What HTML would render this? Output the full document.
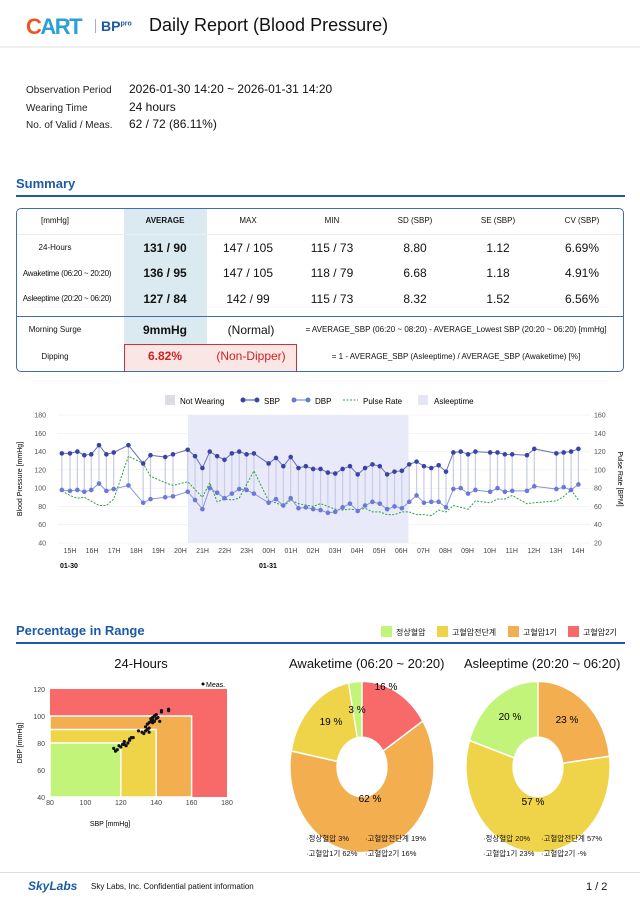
<!DOCTYPE html>
<html><head><meta charset="utf-8">
<style>
*{margin:0;padding:0;box-sizing:border-box}
body{width:640px;height:906px;background:#fff;font-family:"Liberation Sans","Noto Sans CJK KR",sans-serif;color:#111;position:relative;overflow:hidden}
.a{position:absolute;white-space:nowrap}
.c{transform:translateX(-50%)}
</style></head><body>
<div class="a" style="left:26px;top:14px;font-size:22px;font-weight:bold;letter-spacing:-1.5px"><span style="color:#e8572a">C</span><span style="color:#2a9fd8">ART</span></div>
<div class="a" style="left:95px;top:19px;width:1px;height:14px;background:#aac"></div>
<div class="a" style="left:101px;top:18px;font-size:14px;font-weight:bold;color:#1c5aa8">BP<sup style="font-size:7px">pro</sup></div>
<div class="a" style="left:149px;top:15px;font-size:18px">Daily Report (Blood Pressure)</div>
<div class="a" style="left:0;top:46px;width:640px;height:2px;background:#f0f0f0"></div>

<div class="a" style="left:26px;top:85px;font-size:10px;color:#222">Observation Period</div>
<div class="a" style="left:129px;top:82px;font-size:12px">2026-01-30 14:20 ~ 2026-01-31 14:20</div>
<div class="a" style="left:26px;top:103px;font-size:10px;color:#222">Wearing Time</div>
<div class="a" style="left:129px;top:100px;font-size:12px">24 hours</div>
<div class="a" style="left:26px;top:120px;font-size:10px;color:#222">No. of Valid / Meas.</div>
<div class="a" style="left:129px;top:117px;font-size:12px">62 / 72 (86.11%)</div>

<div class="a" style="left:16px;top:176px;font-size:13px;font-weight:bold;color:#1c5aa8">Summary</div>
<div class="a" style="left:16px;top:195px;width:609px;height:2px;background:#1c5aa8"></div>

<div class="a" style="left:16px;top:208px;width:608px;height:164px;border:1.5px solid #3d6fb0;border-radius:5px"></div>
<div class="a" style="left:124px;top:209px;width:83px;height:136px;background:#daeaf0"></div>
<div class="a" style="left:17px;top:234px;width:606px;height:1px;background:#e8eef4"></div>
<div class="a" style="left:17px;top:316px;width:606px;height:1px;background:#3d6fb0"></div>
<div class="a" style="left:124px;top:344px;width:173px;height:27px;background:#fbe6e6;border:1px solid #d03030;border-bottom:none"></div>
<div style="font-size:8px">
<div class="a c" style="left:55px;top:216px">[mmHg]</div>
<div class="a c" style="left:165px;top:216px;font-weight:bold">AVERAGE</div>
<div class="a c" style="left:248px;top:216px">MAX</div>
<div class="a c" style="left:332px;top:216px">MIN</div>
<div class="a c" style="left:415px;top:216px">SD (SBP)</div>
<div class="a c" style="left:498px;top:216px">SE (SBP)</div>
<div class="a c" style="left:582px;top:216px">CV (SBP)</div>
<div class="a c" style="left:55px;top:243px">24-Hours</div>
<div class="a c" style="left:67px;top:269px;letter-spacing:-0.3px">Awaketime (06:20 ~ 20:20)</div>
<div class="a c" style="left:67px;top:294px;letter-spacing:-0.3px">Asleeptime (20:20 ~ 06:20)</div>
<div class="a c" style="left:55px;top:325px">Morning Surge</div>
<div class="a c" style="left:55px;top:352px">Dipping</div>
<div class="a c" style="left:456px;top:325px">= AVERAGE_SBP (06:20 ~ 08:20) - AVERAGE_Lowest SBP (20:20 ~ 06:20) [mmHg]</div>
<div class="a c" style="left:456px;top:352px">= 1 - AVERAGE_SBP (Asleeptime) / AVERAGE_SBP (Awaketime) [%]</div>
</div>
<div style="font-size:12px">
<div class="a c" style="left:165px;top:241px;font-weight:bold">131 / 90</div>
<div class="a c" style="left:248px;top:241px">147 / 105</div>
<div class="a c" style="left:332px;top:241px">115 / 73</div>
<div class="a c" style="left:415px;top:241px">8.80</div>
<div class="a c" style="left:498px;top:241px">1.12</div>
<div class="a c" style="left:582px;top:241px">6.69%</div>
<div class="a c" style="left:165px;top:266px;font-weight:bold">136 / 95</div>
<div class="a c" style="left:248px;top:266px">147 / 105</div>
<div class="a c" style="left:332px;top:266px">118 / 79</div>
<div class="a c" style="left:415px;top:266px">6.68</div>
<div class="a c" style="left:498px;top:266px">1.18</div>
<div class="a c" style="left:582px;top:266px">4.91%</div>
<div class="a c" style="left:165px;top:292px;font-weight:bold">127 / 84</div>
<div class="a c" style="left:248px;top:292px">142 / 99</div>
<div class="a c" style="left:332px;top:292px">115 / 73</div>
<div class="a c" style="left:415px;top:292px">8.32</div>
<div class="a c" style="left:498px;top:292px">1.52</div>
<div class="a c" style="left:582px;top:292px">6.56%</div>
<div class="a c" style="left:165px;top:323px;font-weight:bold">9mmHg</div>
<div class="a c" style="left:251px;top:323px">(Normal)</div>
<div class="a c" style="left:165px;top:349px;font-weight:bold;color:#d02020">6.82%</div>
<div class="a c" style="left:251px;top:349px;color:#d02020">(Non-Dipper)</div>
</div>

<svg class="a" style="left:0;top:390px" width="640" height="190" id="ch"></svg>

<div class="a" style="left:16px;top:623px;font-size:13px;font-weight:bold;color:#1c5aa8">Percentage in Range</div>
<div class="a" style="left:16px;top:642px;width:609px;height:2px;background:#1c5aa8"></div>
<div style="font-size:8px">
<div class="a" style="left:381px;top:626px;width:11px;height:11px;background:#c3f47a"></div><div class="a" style="left:396px;top:627px">정상혈압</div>
<div class="a" style="left:437px;top:626px;width:11px;height:11px;background:#efd44a"></div><div class="a" style="left:452px;top:627px">고혈압전단계</div>
<div class="a" style="left:508px;top:626px;width:11px;height:11px;background:#f3ae50"></div><div class="a" style="left:523px;top:627px">고혈압1기</div>
<div class="a" style="left:568px;top:626px;width:11px;height:11px;background:#f86a6a"></div><div class="a" style="left:583px;top:627px">고혈압2기</div>
</div>
<div class="a c" style="left:141px;top:656px;font-size:13px">24-Hours</div>
<div class="a" style="left:289px;top:656px;font-size:13px">Awaketime (06:20 ~ 20:20)</div>
<div class="a" style="left:464px;top:656px;font-size:13px">Asleeptime (20:20 ~ 06:20)</div>
<svg class="a" style="left:0;top:670px" width="640" height="200" id="bt"></svg>
<div style="font-size:7.5px">
<div class="a" style="left:306px;top:833px">·정상혈압 3%</div><div class="a" style="left:365px;top:833px">·고혈압전단계 19%</div>
<div class="a" style="left:306px;top:848px">·고혈압1기 62%</div><div class="a" style="left:365px;top:848px">·고혈압2기 16%</div>
<div class="a" style="left:483px;top:833px">·정상혈압 20%</div><div class="a" style="left:541px;top:833px">·고혈압전단계 57%</div>
<div class="a" style="left:483px;top:848px">·고혈압1기 23%</div><div class="a" style="left:541px;top:848px">·고혈압2기 -%</div>
</div>
<div class="a" style="left:0;top:872px;width:640px;height:1px;background:#ddd"></div>
<div class="a" style="left:28px;top:879px;font-size:12px;font-weight:bold;font-style:italic;color:#1c5aa8">SkyLabs</div>
<div class="a" style="left:91px;top:882px;font-size:8px">Sky Labs, Inc. Confidential patient information</div>
<div class="a" style="left:586px;top:881px;font-size:11px">1 / 2</div>

<script>
var NS="http://www.w3.org/2000/svg";
function el(p,t,a,tx){var e=document.createElementNS(NS,t);for(var k in a)e.setAttribute(k,a[k]);if(tx!=null)e.textContent=tx;p.appendChild(e);return e;}
var ch=document.getElementById('ch');
function X(z){return 70+(z-172)*0.4087;}
function Y(v){return 25+(180-v)/140*128;}
el(ch,'rect',{x:165,y:5,width:10,height:10,fill:'#dcdce4'});el(ch,'text',{x:180,y:14,'font-size':8},'Not Wearing');
el(ch,'line',{x1:242,y1:10,x2:258,y2:10,stroke:'#3a44a8'});el(ch,'circle',{cx:243,cy:10,r:2.5,fill:'#3a44a8'});el(ch,'circle',{cx:257,cy:10,r:2.5,fill:'#3a44a8'});el(ch,'text',{x:264,y:14,'font-size':8},'SBP');
el(ch,'line',{x1:293,y1:10,x2:309,y2:10,stroke:'#6a78d8'});el(ch,'circle',{cx:294,cy:10,r:2.5,fill:'#6a78d8'});el(ch,'circle',{cx:308,cy:10,r:2.5,fill:'#6a78d8'});el(ch,'text',{x:315,y:14,'font-size':8},'DBP');
el(ch,'line',{x1:343,y1:10,x2:358,y2:10,stroke:'#2aa040','stroke-dasharray':'2,1.5'});el(ch,'text',{x:363,y:14,'font-size':8},'Pulse Rate');
el(ch,'rect',{x:418,y:5,width:10,height:10,fill:'#e4e6f8'});el(ch,'text',{x:434,y:14,'font-size':8},'Asleeptime');
el(ch,'rect',{x:188,y:25,width:220.5,height:128,fill:'#e9eaf9'});
for(var v=40;v<=180;v+=20){el(ch,'line',{x1:58,x2:590,y1:Y(v),y2:Y(v),stroke:'#eee','stroke-width':0.6});el(ch,'text',{x:46,y:Y(v)+2.5,'font-size':7,fill:'#555','text-anchor':'end'},v);el(ch,'text',{x:594,y:Y(v)+2.5,'font-size':7,fill:'#555'},v-20);}
el(ch,'text',{x:0,y:0,'font-size':7,transform:'translate(22,89) rotate(-90)','text-anchor':'middle'},'Blood Pressure  [mmHg]');
el(ch,'text',{x:0,y:0,'font-size':7,transform:'translate(618,89) rotate(90)','text-anchor':'middle'},'Pulse Rate  [BPM]');
var hl=['15H','16H','17H','18H','19H','20H','21H','22H','23H','00H','01H','02H','03H','04H','05H','06H','07H','08H','09H','10H','11H','12H','13H','14H'];
for(var i=0;i<24;i++)el(ch,'text',{x:70+i*508/23,y:163,'font-size':7,fill:'#444','text-anchor':'middle'},hl[i]);
el(ch,'text',{x:60,y:178,'font-size':7,'font-weight':'bold'},'01-30');el(ch,'text',{x:259,y:178,'font-size':7,'font-weight':'bold'},'01-31');
var S=[[152,138],[172,138],[190,140],[207,136],[224,137],[243,147],[261,137],[279,139],[315,147],[351,127],[369,136],[405,134],[424,137],[460,142],[478,135],[496,122],[514,140],[532,135],[550,131],[568,138],[586,140],[604,137],[622,138],[658,127],[676,133],[694,124],[712,134],[731,122],[749,124],[767,121],[785,121],[803,117],[821,116],[839,121],[857,124],[876,115],[894,122],[912,126],[930,124],[948,115],[966,118],[984,119],[1002,126],[1020,129],[1038,124],[1056,122],[1074,125],[1092,118],[1110,139],[1128,140],[1146,137],[1164,140],[1200,139],[1218,139],[1236,137],[1254,137],[1290,136],[1308,143],[1362,138],[1380,139],[1398,140],[1416,143]];
var D=[98,97,98,96,98,105,97,99,103,84,88,90,91,96,87,77,100,95,89,94,99,98,94,84,88,81,89,78,79,77,76,73,74,79,83,75,81,85,83,77,80,78,85,92,84,85,85,79,99,100,94,98,96,100,96,97,97,102,99,101,98,104];
var P=[[152,97],[172,92],[190,89],[207,90],[243,81],[261,81],[279,88],[315,135],[351,127],[369,113],[405,106],[424,103],[460,107],[496,90],[514,106],[532,85],[550,88],[568,87],[586,89],[622,119],[658,86],[676,84],[694,80],[712,87],[731,83],[767,80],[785,83],[821,77],[839,76],[857,77],[876,76],[894,78],[912,74],[930,74],[948,71],[966,71],[984,74],[1002,74],[1020,71],[1038,71],[1056,70],[1074,76],[1092,74],[1110,81],[1128,79],[1146,77],[1164,86],[1200,84],[1218,88],[1236,88],[1254,92],[1290,83],[1308,84],[1362,86],[1380,91],[1398,98],[1416,87]];
var sp='',dp='',pp='';
S.forEach(function(s,i){var x=X(s[0]);el(ch,'line',{x1:x,x2:x,y1:Y(s[1]),y2:Y(D[i]),stroke:'#c8cbe4','stroke-width':1.2});sp+=x+','+Y(s[1])+' ';dp+=x+','+Y(D[i])+' ';});
P.forEach(function(p){pp+=X(p[0])+','+Y(p[1])+' ';});
el(ch,'polyline',{points:pp,fill:'none',stroke:'#2aa040','stroke-width':1,'stroke-dasharray':'2,1.5'});
el(ch,'polyline',{points:dp,fill:'none',stroke:'#8a94dc','stroke-width':1});
el(ch,'polyline',{points:sp,fill:'none',stroke:'#6a70b8','stroke-width':1});
S.forEach(function(s,i){var x=X(s[0]);el(ch,'circle',{cx:x,cy:Y(s[1]),r:2.3,fill:'#3a44a8'});el(ch,'circle',{cx:x,cy:Y(D[i]),r:2.3,fill:'#6a78d8'});});

var bt=document.getElementById('bt');
function SX(v){return 50+(v-80)*1.77;}function SY(v){return 19+(120-v)/80*108;}
el(bt,'rect',{x:SX(80),y:SY(120),width:SX(180)-SX(80),height:108,fill:'#f86a6a'});
el(bt,'rect',{x:SX(80),y:SY(100),width:SX(160)-SX(80),height:SY(40)-SY(100),fill:'#f3ae50',stroke:'#fff','stroke-width':1.5});
el(bt,'rect',{x:SX(80),y:SY(90),width:SX(140)-SX(80),height:SY(40)-SY(90),fill:'#efd44a',stroke:'#fff','stroke-width':1.5});
el(bt,'rect',{x:SX(80),y:SY(80),width:SX(120)-SX(80),height:SY(40)-SY(80),fill:'#c3f47a',stroke:'#fff','stroke-width':1.5});
for(var v=40;v<=120;v+=20)el(bt,'text',{x:45,y:SY(v)+3,'font-size':7,fill:'#444','text-anchor':'end'},v);
for(var v=80;v<=180;v+=20)el(bt,'text',{x:SX(v),y:135,'font-size':7,fill:'#444','text-anchor':'middle'},v);
el(bt,'text',{x:110,y:156,'font-size':7,'text-anchor':'middle'},'SBP [mmHg]');
el(bt,'text',{x:0,y:0,'font-size':7,transform:'translate(22,73) rotate(-90)','text-anchor':'middle'},'DBP  [mmHg]');
el(bt,'circle',{cx:203,cy:14,r:1.5});el(bt,'text',{x:206,y:17,'font-size':7},'Meas.');
var pts=[[116,76],[117,74],[118,75],[119,78],[120,77],[121,79],[122,79],[122,81],[123,78],[124,80],[125,83],[125,82],[126,84],[127,84],[130,89],[132,88],[133,87],[134,89],[135,90],[135,94],[136,95],[136,91],[137,96],[137,98],[138,97],[138,99],[139,100],[140,98],[139,96],[140,101],[141,99],[142,96],[143,103],[143,104],[147,104],[147,105],[136,88],[134,92],[138,95]];
pts.forEach(function(p){el(bt,'circle',{cx:SX(p[0]),cy:SY(p[1]),r:1.6,fill:'#111'});});
function donut(cx,cy,R,r,segs,labels){var g=el(bt,'g',{transform:'translate('+cx+','+cy+') scale(1,1.19)'});var a=-Math.PI/2;segs.forEach(function(s,i){var b=a+s[0]*2*Math.PI;var l=(b-a)>Math.PI?1:0;
var d='M'+(R*Math.cos(a))+','+(R*Math.sin(a))+' A'+R+','+R+' 0 '+l+' 1 '+(R*Math.cos(b))+','+(R*Math.sin(b))+' L'+(r*Math.cos(b))+','+(r*Math.sin(b))+' A'+r+','+r+' 0 '+l+' 0 '+(r*Math.cos(a))+','+(r*Math.sin(a))+' Z';
el(g,'path',{d:d,fill:s[1],stroke:'#fff','stroke-width':1.3});a=b;});
labels.forEach(function(t){el(bt,'text',{x:t[0],y:t[1],'font-size':10,'text-anchor':'middle'},t[2]);});}
donut(362,97,72,25,[[0.16,'#f86a6a'],[0.62,'#f3ae50'],[0.19,'#efd44a'],[0.03,'#c3f47a']],[[386,20,'16 %'],[370,132,'62 %'],[331,55,'19 %'],[357,43,'3 %']]);
donut(538,97,72,25,[[0.23,'#f3ae50'],[0.57,'#efd44a'],[0.20,'#c3f47a']],[[567,53,'23 %'],[533,135,'57 %'],[510,50,'20 %']]);
</script>
</body></html>
